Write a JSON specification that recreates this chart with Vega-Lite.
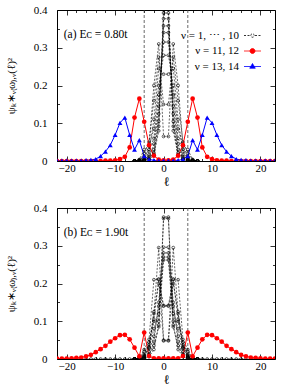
{
"$schema":"https://vega.github.io/schema/vega-lite/v6.json",
"padding":{"left":4,"top":3,"right":5,"bottom":4},
"background":"white",
"config":{"font":"Liberation Serif","view":{"stroke":"black","strokeWidth":1},
"axis":{"grid":false,"domain":false,"labelFont":"Liberation Serif","labelFontSize":11,"labelColor":"black","tickColor":"black","tickWidth":0.8,"titleFont":"Liberation Serif","titleFontWeight":"normal","titleColor":"black"}},
"spacing":12,
"resolve":{"scale":{"x":"independent","y":"independent","shape":"independent","fill":"independent","stroke":"independent","strokeDash":"independent"},"legend":{"shape":"independent","fill":"independent","stroke":"independent","strokeDash":"independent"},"axis":{"x":"independent","y":"independent"}},
"datasets":{
"cut":[{"l":-4},{"l":5}],
"a":[
{"g":"k","n":1,"l":-6,"v":0},{"g":"k","n":1,"l":-5,"v":0},{"g":"k","n":1,"l":-4,"v":0.001},{"g":"k","n":1,"l":-3,"v":0.004},{"g":"k","n":1,"l":-2,"v":0.015},{"g":"k","n":1,"l":-1,"v":0.08},{"g":"k","n":1,"l":0,"v":0.4},{"g":"k","n":1,"l":1,"v":0.4},{"g":"k","n":1,"l":2,"v":0.08},{"g":"k","n":1,"l":3,"v":0.015},{"g":"k","n":1,"l":4,"v":0.004},{"g":"k","n":1,"l":5,"v":0.001},{"g":"k","n":1,"l":6,"v":0},{"g":"k","n":1,"l":7,"v":0},
{"g":"k","n":2,"l":-6,"v":0},{"g":"k","n":2,"l":-5,"v":0.001},{"g":"k","n":2,"l":-4,"v":0.003},{"g":"k","n":2,"l":-3,"v":0.012},{"g":"k","n":2,"l":-2,"v":0.018},{"g":"k","n":2,"l":-1,"v":0.092},{"g":"k","n":2,"l":0,"v":0.392},{"g":"k","n":2,"l":1,"v":0.392},{"g":"k","n":2,"l":2,"v":0.092},{"g":"k","n":2,"l":3,"v":0.018},{"g":"k","n":2,"l":4,"v":0.012},{"g":"k","n":2,"l":5,"v":0.003},{"g":"k","n":2,"l":6,"v":0.001},{"g":"k","n":2,"l":7,"v":0},
{"g":"k","n":3,"l":-6,"v":0},{"g":"k","n":3,"l":-5,"v":0},{"g":"k","n":3,"l":-4,"v":0.002},{"g":"k","n":3,"l":-3,"v":0.005},{"g":"k","n":3,"l":-2,"v":0.022},{"g":"k","n":3,"l":-1,"v":0.105},{"g":"k","n":3,"l":0,"v":0.377},{"g":"k","n":3,"l":1,"v":0.377},{"g":"k","n":3,"l":2,"v":0.105},{"g":"k","n":3,"l":3,"v":0.022},{"g":"k","n":3,"l":4,"v":0.005},{"g":"k","n":3,"l":5,"v":0.002},{"g":"k","n":3,"l":6,"v":0},{"g":"k","n":3,"l":7,"v":0},
{"g":"k","n":4,"l":-6,"v":0},{"g":"k","n":4,"l":-5,"v":0.001},{"g":"k","n":4,"l":-4,"v":0.004},{"g":"k","n":4,"l":-3,"v":0.016},{"g":"k","n":4,"l":-2,"v":0.03},{"g":"k","n":4,"l":-1,"v":0.125},{"g":"k","n":4,"l":0,"v":0.358},{"g":"k","n":4,"l":1,"v":0.358},{"g":"k","n":4,"l":2,"v":0.125},{"g":"k","n":4,"l":3,"v":0.03},{"g":"k","n":4,"l":4,"v":0.016},{"g":"k","n":4,"l":5,"v":0.004},{"g":"k","n":4,"l":6,"v":0.001},{"g":"k","n":4,"l":7,"v":0},
{"g":"k","n":5,"l":-6,"v":0},{"g":"k","n":5,"l":-5,"v":0},{"g":"k","n":5,"l":-4,"v":0.002},{"g":"k","n":5,"l":-3,"v":0.008},{"g":"k","n":5,"l":-2,"v":0.045},{"g":"k","n":5,"l":-1,"v":0.145},{"g":"k","n":5,"l":0,"v":0.34},{"g":"k","n":5,"l":1,"v":0.34},{"g":"k","n":5,"l":2,"v":0.145},{"g":"k","n":5,"l":3,"v":0.045},{"g":"k","n":5,"l":4,"v":0.008},{"g":"k","n":5,"l":5,"v":0.002},{"g":"k","n":5,"l":6,"v":0},{"g":"k","n":5,"l":7,"v":0},
{"g":"k","n":6,"l":-6,"v":0},{"g":"k","n":6,"l":-5,"v":0.002},{"g":"k","n":6,"l":-4,"v":0.01},{"g":"k","n":6,"l":-3,"v":0.03},{"g":"k","n":6,"l":-2,"v":0.06},{"g":"k","n":6,"l":-1,"v":0.175},{"g":"k","n":6,"l":0,"v":0.315},{"g":"k","n":6,"l":1,"v":0.315},{"g":"k","n":6,"l":2,"v":0.175},{"g":"k","n":6,"l":3,"v":0.06},{"g":"k","n":6,"l":4,"v":0.03},{"g":"k","n":6,"l":5,"v":0.01},{"g":"k","n":6,"l":6,"v":0.002},{"g":"k","n":6,"l":7,"v":0},
{"g":"k","n":7,"l":-6,"v":0},{"g":"k","n":7,"l":-5,"v":0.002},{"g":"k","n":7,"l":-4,"v":0.012},{"g":"k","n":7,"l":-3,"v":0.04},{"g":"k","n":7,"l":-2,"v":0.085},{"g":"k","n":7,"l":-1,"v":0.2},{"g":"k","n":7,"l":0,"v":0.28},{"g":"k","n":7,"l":1,"v":0.28},{"g":"k","n":7,"l":2,"v":0.2},{"g":"k","n":7,"l":3,"v":0.085},{"g":"k","n":7,"l":4,"v":0.04},{"g":"k","n":7,"l":5,"v":0.012},{"g":"k","n":7,"l":6,"v":0.002},{"g":"k","n":7,"l":7,"v":0},
{"g":"k","n":8,"l":-6,"v":0},{"g":"k","n":8,"l":-5,"v":0.001},{"g":"k","n":8,"l":-4,"v":0.006},{"g":"k","n":8,"l":-3,"v":0.025},{"g":"k","n":8,"l":-2,"v":0.11},{"g":"k","n":8,"l":-1,"v":0.245},{"g":"k","n":8,"l":0,"v":0.23},{"g":"k","n":8,"l":1,"v":0.23},{"g":"k","n":8,"l":2,"v":0.245},{"g":"k","n":8,"l":3,"v":0.11},{"g":"k","n":8,"l":4,"v":0.025},{"g":"k","n":8,"l":5,"v":0.006},{"g":"k","n":8,"l":6,"v":0.001},{"g":"k","n":8,"l":7,"v":0},
{"g":"k","n":9,"l":-6,"v":0},{"g":"k","n":9,"l":-5,"v":0.003},{"g":"k","n":9,"l":-4,"v":0.02},{"g":"k","n":9,"l":-3,"v":0.05},{"g":"k","n":9,"l":-2,"v":0.16},{"g":"k","n":9,"l":-1,"v":0.275},{"g":"k","n":9,"l":0,"v":0.15},{"g":"k","n":9,"l":1,"v":0.15},{"g":"k","n":9,"l":2,"v":0.275},{"g":"k","n":9,"l":3,"v":0.16},{"g":"k","n":9,"l":4,"v":0.05},{"g":"k","n":9,"l":5,"v":0.02},{"g":"k","n":9,"l":6,"v":0.003},{"g":"k","n":9,"l":7,"v":0},
{"g":"k","n":10,"l":-6,"v":0},{"g":"k","n":10,"l":-5,"v":0.004},{"g":"k","n":10,"l":-4,"v":0.03},{"g":"k","n":10,"l":-3,"v":0.04},{"g":"k","n":10,"l":-2,"v":0.2},{"g":"k","n":10,"l":-1,"v":0.31},{"g":"k","n":10,"l":0,"v":0.065},{"g":"k","n":10,"l":1,"v":0.065},{"g":"k","n":10,"l":2,"v":0.31},{"g":"k","n":10,"l":3,"v":0.2},{"g":"k","n":10,"l":4,"v":0.04},{"g":"k","n":10,"l":5,"v":0.03},{"g":"k","n":10,"l":6,"v":0.004},{"g":"k","n":10,"l":7,"v":0},
{"g":"r","n":11,"l":-22,"v":0},{"g":"r","n":11,"l":-21,"v":0},{"g":"r","n":11,"l":-20,"v":0},{"g":"r","n":11,"l":-19,"v":0},{"g":"r","n":11,"l":-18,"v":0},{"g":"r","n":11,"l":-17,"v":0},{"g":"r","n":11,"l":-16,"v":0},{"g":"r","n":11,"l":-15,"v":0},{"g":"r","n":11,"l":-14,"v":0},{"g":"r","n":11,"l":-13,"v":0},{"g":"r","n":11,"l":-12,"v":0.001},{"g":"r","n":11,"l":-11,"v":0.001},{"g":"r","n":11,"l":-10,"v":0.002},{"g":"r","n":11,"l":-9,"v":0.005},{"g":"r","n":11,"l":-8,"v":0.011},{"g":"r","n":11,"l":-7,"v":0.036},{"g":"r","n":11,"l":-6,"v":0.115},{"g":"r","n":11,"l":-5,"v":0.165},{"g":"r","n":11,"l":-4,"v":0.104},{"g":"r","n":11,"l":-3,"v":0.042},{"g":"r","n":11,"l":-2,"v":0.014},{"g":"r","n":11,"l":-1,"v":0.004},{"g":"r","n":11,"l":0,"v":0.002},{"g":"r","n":11,"l":1,"v":0.002},{"g":"r","n":11,"l":2,"v":0.004},{"g":"r","n":11,"l":3,"v":0.014},{"g":"r","n":11,"l":4,"v":0.042},{"g":"r","n":11,"l":5,"v":0.104},{"g":"r","n":11,"l":6,"v":0.165},{"g":"r","n":11,"l":7,"v":0.115},{"g":"r","n":11,"l":8,"v":0.036},{"g":"r","n":11,"l":9,"v":0.011},{"g":"r","n":11,"l":10,"v":0.005},{"g":"r","n":11,"l":11,"v":0.002},{"g":"r","n":11,"l":12,"v":0.001},{"g":"r","n":11,"l":13,"v":0.001},{"g":"r","n":11,"l":14,"v":0},{"g":"r","n":11,"l":15,"v":0},{"g":"r","n":11,"l":16,"v":0},{"g":"r","n":11,"l":17,"v":0},{"g":"r","n":11,"l":18,"v":0},{"g":"r","n":11,"l":19,"v":0},{"g":"r","n":11,"l":20,"v":0},{"g":"r","n":11,"l":21,"v":0},{"g":"r","n":11,"l":22,"v":0},{"g":"r","n":11,"l":23,"v":0},
{"g":"b","n":13,"l":-22,"v":0.001},{"g":"b","n":13,"l":-21,"v":0.001},{"g":"b","n":13,"l":-20,"v":0.001},{"g":"b","n":13,"l":-19,"v":0.001},{"g":"b","n":13,"l":-18,"v":0.001},{"g":"b","n":13,"l":-17,"v":0.001},{"g":"b","n":13,"l":-16,"v":0.002},{"g":"b","n":13,"l":-15,"v":0.003},{"g":"b","n":13,"l":-14,"v":0.005},{"g":"b","n":13,"l":-13,"v":0.013},{"g":"b","n":13,"l":-12,"v":0.025},{"g":"b","n":13,"l":-11,"v":0.042},{"g":"b","n":13,"l":-10,"v":0.069},{"g":"b","n":13,"l":-9,"v":0.101},{"g":"b","n":13,"l":-8,"v":0.115},{"g":"b","n":13,"l":-7,"v":0.069},{"g":"b","n":13,"l":-6,"v":0.03},{"g":"b","n":13,"l":-5,"v":0.055},{"g":"b","n":13,"l":-4,"v":0.013},{"g":"b","n":13,"l":-3,"v":0.004},{"g":"b","n":13,"l":-2,"v":0.002},{"g":"b","n":13,"l":-1,"v":0.001},{"g":"b","n":13,"l":0,"v":0.001},{"g":"b","n":13,"l":1,"v":0.001},{"g":"b","n":13,"l":2,"v":0.001},{"g":"b","n":13,"l":3,"v":0.002},{"g":"b","n":13,"l":4,"v":0.004},{"g":"b","n":13,"l":5,"v":0.013},{"g":"b","n":13,"l":6,"v":0.055},{"g":"b","n":13,"l":7,"v":0.03},{"g":"b","n":13,"l":8,"v":0.069},{"g":"b","n":13,"l":9,"v":0.115},{"g":"b","n":13,"l":10,"v":0.101},{"g":"b","n":13,"l":11,"v":0.069},{"g":"b","n":13,"l":12,"v":0.042},{"g":"b","n":13,"l":13,"v":0.025},{"g":"b","n":13,"l":14,"v":0.013},{"g":"b","n":13,"l":15,"v":0.005},{"g":"b","n":13,"l":16,"v":0.003},{"g":"b","n":13,"l":17,"v":0.002},{"g":"b","n":13,"l":18,"v":0.001},{"g":"b","n":13,"l":19,"v":0.001},{"g":"b","n":13,"l":20,"v":0.001},{"g":"b","n":13,"l":21,"v":0.001},{"g":"b","n":13,"l":22,"v":0.001},{"g":"b","n":13,"l":23,"v":0.001}
],
"b":[
{"g":"k","n":1,"l":-22,"v":0},{"g":"k","n":1,"l":-21,"v":0},{"g":"k","n":1,"l":-20,"v":0},{"g":"k","n":1,"l":-19,"v":0},{"g":"k","n":1,"l":-18,"v":0},{"g":"k","n":1,"l":-17,"v":0},{"g":"k","n":1,"l":-16,"v":0},{"g":"k","n":1,"l":-15,"v":0},{"g":"k","n":1,"l":-14,"v":0},{"g":"k","n":1,"l":-13,"v":0},{"g":"k","n":1,"l":-12,"v":0},{"g":"k","n":1,"l":-11,"v":0},{"g":"k","n":1,"l":-10,"v":0},{"g":"k","n":1,"l":-9,"v":0},{"g":"k","n":1,"l":-8,"v":0},{"g":"k","n":1,"l":-7,"v":0},{"g":"k","n":1,"l":-6,"v":0},{"g":"k","n":1,"l":-5,"v":0},{"g":"k","n":1,"l":-4,"v":0.002},{"g":"k","n":1,"l":-3,"v":0.01},{"g":"k","n":1,"l":-2,"v":0.035},{"g":"k","n":1,"l":-1,"v":0.085},{"g":"k","n":1,"l":0,"v":0.376},{"g":"k","n":1,"l":1,"v":0.376},{"g":"k","n":1,"l":2,"v":0.085},{"g":"k","n":1,"l":3,"v":0.035},{"g":"k","n":1,"l":4,"v":0.01},{"g":"k","n":1,"l":5,"v":0.002},{"g":"k","n":1,"l":6,"v":0},{"g":"k","n":1,"l":7,"v":0},{"g":"k","n":1,"l":8,"v":0},{"g":"k","n":1,"l":9,"v":0},{"g":"k","n":1,"l":10,"v":0},{"g":"k","n":1,"l":11,"v":0},{"g":"k","n":1,"l":12,"v":0},{"g":"k","n":1,"l":13,"v":0},{"g":"k","n":1,"l":14,"v":0},{"g":"k","n":1,"l":15,"v":0},{"g":"k","n":1,"l":16,"v":0},{"g":"k","n":1,"l":17,"v":0},{"g":"k","n":1,"l":18,"v":0},{"g":"k","n":1,"l":19,"v":0},{"g":"k","n":1,"l":20,"v":0},{"g":"k","n":1,"l":21,"v":0},{"g":"k","n":1,"l":22,"v":0},{"g":"k","n":1,"l":23,"v":0},
{"g":"k","n":2,"l":-6,"v":0},{"g":"k","n":2,"l":-5,"v":0},{"g":"k","n":2,"l":-4,"v":0.001},{"g":"k","n":2,"l":-3,"v":0.006},{"g":"k","n":2,"l":-2,"v":0.025},{"g":"k","n":2,"l":-1,"v":0.09},{"g":"k","n":2,"l":0,"v":0.372},{"g":"k","n":2,"l":1,"v":0.372},{"g":"k","n":2,"l":2,"v":0.09},{"g":"k","n":2,"l":3,"v":0.025},{"g":"k","n":2,"l":4,"v":0.006},{"g":"k","n":2,"l":5,"v":0.001},{"g":"k","n":2,"l":6,"v":0},{"g":"k","n":2,"l":7,"v":0},
{"g":"k","n":3,"l":-6,"v":0},{"g":"k","n":3,"l":-5,"v":0},{"g":"k","n":3,"l":-4,"v":0.003},{"g":"k","n":3,"l":-3,"v":0.012},{"g":"k","n":3,"l":-2,"v":0.045},{"g":"k","n":3,"l":-1,"v":0.15},{"g":"k","n":3,"l":0,"v":0.296},{"g":"k","n":3,"l":1,"v":0.296},{"g":"k","n":3,"l":2,"v":0.15},{"g":"k","n":3,"l":3,"v":0.045},{"g":"k","n":3,"l":4,"v":0.012},{"g":"k","n":3,"l":5,"v":0.003},{"g":"k","n":3,"l":6,"v":0},{"g":"k","n":3,"l":7,"v":0},
{"g":"k","n":4,"l":-6,"v":0},{"g":"k","n":4,"l":-5,"v":0.001},{"g":"k","n":4,"l":-4,"v":0.004},{"g":"k","n":4,"l":-3,"v":0.02},{"g":"k","n":4,"l":-2,"v":0.06},{"g":"k","n":4,"l":-1,"v":0.14},{"g":"k","n":4,"l":0,"v":0.281},{"g":"k","n":4,"l":1,"v":0.281},{"g":"k","n":4,"l":2,"v":0.14},{"g":"k","n":4,"l":3,"v":0.06},{"g":"k","n":4,"l":4,"v":0.02},{"g":"k","n":4,"l":5,"v":0.004},{"g":"k","n":4,"l":6,"v":0.001},{"g":"k","n":4,"l":7,"v":0},
{"g":"k","n":5,"l":-6,"v":0},{"g":"k","n":5,"l":-5,"v":0.001},{"g":"k","n":5,"l":-4,"v":0.006},{"g":"k","n":5,"l":-3,"v":0.028},{"g":"k","n":5,"l":-2,"v":0.08},{"g":"k","n":5,"l":-1,"v":0.12},{"g":"k","n":5,"l":0,"v":0.27},{"g":"k","n":5,"l":1,"v":0.27},{"g":"k","n":5,"l":2,"v":0.12},{"g":"k","n":5,"l":3,"v":0.08},{"g":"k","n":5,"l":4,"v":0.028},{"g":"k","n":5,"l":5,"v":0.006},{"g":"k","n":5,"l":6,"v":0.001},{"g":"k","n":5,"l":7,"v":0},
{"g":"k","n":6,"l":-6,"v":0},{"g":"k","n":6,"l":-5,"v":0.001},{"g":"k","n":6,"l":-4,"v":0.008},{"g":"k","n":6,"l":-3,"v":0.038},{"g":"k","n":6,"l":-2,"v":0.1},{"g":"k","n":6,"l":-1,"v":0.1},{"g":"k","n":6,"l":0,"v":0.262},{"g":"k","n":6,"l":1,"v":0.262},{"g":"k","n":6,"l":2,"v":0.1},{"g":"k","n":6,"l":3,"v":0.1},{"g":"k","n":6,"l":4,"v":0.038},{"g":"k","n":6,"l":5,"v":0.008},{"g":"k","n":6,"l":6,"v":0.001},{"g":"k","n":6,"l":7,"v":0},
{"g":"k","n":7,"l":-6,"v":0},{"g":"k","n":7,"l":-5,"v":0.002},{"g":"k","n":7,"l":-4,"v":0.012},{"g":"k","n":7,"l":-3,"v":0.045},{"g":"k","n":7,"l":-2,"v":0.105},{"g":"k","n":7,"l":-1,"v":0.21},{"g":"k","n":7,"l":0,"v":0.142},{"g":"k","n":7,"l":1,"v":0.142},{"g":"k","n":7,"l":2,"v":0.21},{"g":"k","n":7,"l":3,"v":0.105},{"g":"k","n":7,"l":4,"v":0.045},{"g":"k","n":7,"l":5,"v":0.012},{"g":"k","n":7,"l":6,"v":0.002},{"g":"k","n":7,"l":7,"v":0},
{"g":"k","n":8,"l":-6,"v":0},{"g":"k","n":8,"l":-5,"v":0.002},{"g":"k","n":8,"l":-4,"v":0.02},{"g":"k","n":8,"l":-3,"v":0.032},{"g":"k","n":8,"l":-2,"v":0.125},{"g":"k","n":8,"l":-1,"v":0.2},{"g":"k","n":8,"l":0,"v":0.14},{"g":"k","n":8,"l":1,"v":0.14},{"g":"k","n":8,"l":2,"v":0.2},{"g":"k","n":8,"l":3,"v":0.125},{"g":"k","n":8,"l":4,"v":0.032},{"g":"k","n":8,"l":5,"v":0.02},{"g":"k","n":8,"l":6,"v":0.002},{"g":"k","n":8,"l":7,"v":0},
{"g":"k","n":9,"l":-6,"v":0},{"g":"k","n":9,"l":-5,"v":0.001},{"g":"k","n":9,"l":-4,"v":0.01},{"g":"k","n":9,"l":-3,"v":0.03},{"g":"k","n":9,"l":-2,"v":0.12},{"g":"k","n":9,"l":-1,"v":0.295},{"g":"k","n":9,"l":0,"v":0.05},{"g":"k","n":9,"l":1,"v":0.05},{"g":"k","n":9,"l":2,"v":0.295},{"g":"k","n":9,"l":3,"v":0.12},{"g":"k","n":9,"l":4,"v":0.03},{"g":"k","n":9,"l":5,"v":0.01},{"g":"k","n":9,"l":6,"v":0.001},{"g":"k","n":9,"l":7,"v":0},
{"g":"k","n":10,"l":-6,"v":0},{"g":"k","n":10,"l":-5,"v":0.003},{"g":"k","n":10,"l":-4,"v":0.025},{"g":"k","n":10,"l":-3,"v":0.052},{"g":"k","n":10,"l":-2,"v":0.21},{"g":"k","n":10,"l":-1,"v":0.212},{"g":"k","n":10,"l":0,"v":0.048},{"g":"k","n":10,"l":1,"v":0.048},{"g":"k","n":10,"l":2,"v":0.212},{"g":"k","n":10,"l":3,"v":0.21},{"g":"k","n":10,"l":4,"v":0.052},{"g":"k","n":10,"l":5,"v":0.025},{"g":"k","n":10,"l":6,"v":0.003},{"g":"k","n":10,"l":7,"v":0},
{"g":"r","n":11,"l":-22,"v":0.001},{"g":"r","n":11,"l":-21,"v":0.001},{"g":"r","n":11,"l":-20,"v":0.001},{"g":"r","n":11,"l":-19,"v":0.002},{"g":"r","n":11,"l":-18,"v":0.003},{"g":"r","n":11,"l":-17,"v":0.004},{"g":"r","n":11,"l":-16,"v":0.007},{"g":"r","n":11,"l":-15,"v":0.011},{"g":"r","n":11,"l":-14,"v":0.018},{"g":"r","n":11,"l":-13,"v":0.026},{"g":"r","n":11,"l":-12,"v":0.035},{"g":"r","n":11,"l":-11,"v":0.046},{"g":"r","n":11,"l":-10,"v":0.055},{"g":"r","n":11,"l":-9,"v":0.063},{"g":"r","n":11,"l":-8,"v":0.064},{"g":"r","n":11,"l":-7,"v":0.052},{"g":"r","n":11,"l":-6,"v":0.03},{"g":"r","n":11,"l":-5,"v":0.007},{"g":"r","n":11,"l":-4,"v":0.07},{"g":"r","n":11,"l":-3,"v":0.008},{"g":"r","n":11,"l":-2,"v":0.002},{"g":"r","n":11,"l":-1,"v":0.002},{"g":"r","n":11,"l":0,"v":0.002},{"g":"r","n":11,"l":1,"v":0.002},{"g":"r","n":11,"l":2,"v":0.002},{"g":"r","n":11,"l":3,"v":0.002},{"g":"r","n":11,"l":4,"v":0.008},{"g":"r","n":11,"l":5,"v":0.07},{"g":"r","n":11,"l":6,"v":0.007},{"g":"r","n":11,"l":7,"v":0.03},{"g":"r","n":11,"l":8,"v":0.052},{"g":"r","n":11,"l":9,"v":0.064},{"g":"r","n":11,"l":10,"v":0.063},{"g":"r","n":11,"l":11,"v":0.055},{"g":"r","n":11,"l":12,"v":0.046},{"g":"r","n":11,"l":13,"v":0.035},{"g":"r","n":11,"l":14,"v":0.026},{"g":"r","n":11,"l":15,"v":0.018},{"g":"r","n":11,"l":16,"v":0.011},{"g":"r","n":11,"l":17,"v":0.007},{"g":"r","n":11,"l":18,"v":0.004},{"g":"r","n":11,"l":19,"v":0.003},{"g":"r","n":11,"l":20,"v":0.002},{"g":"r","n":11,"l":21,"v":0.001},{"g":"r","n":11,"l":22,"v":0.001},{"g":"r","n":11,"l":23,"v":0.001}
]},
"vconcat":[
{"width":218,"height":151,"data":{"name":"a"},
"resolve":{"axis":{"x":"independent","y":"independent"}},
"layer":[
{"data":{"name":"cut"},"mark":{"type":"rule","color":"#444","strokeDash":[3,2],"strokeWidth":0.8},
"encoding":{"x":{"field":"l","type":"quantitative","scale":{"domain":[-22,23],"nice":false,"zero":false},
"axis":{"orient":"bottom","values":[-20,-10,0,10,20],"tickSize":-5,"labelPadding":6,"title":"ℓ","titleFontSize":13,"titlePadding":2}}}},
{"transform":[{"filter":"datum.g == 'k'"}],"mark":{"type":"line","color":"black","strokeWidth":0.6,"strokeDash":[2,1.5],"clip":true},
"encoding":{"x":{"field":"l","type":"quantitative","axis":{"orient":"bottom","values":[-22,-18,-16,-14,-12,-8,-6,-4,-2,2,4,6,8,12,14,16,18,22],"tickSize":-2.5,"labels":false,"title":null}},
"y":{"field":"v","type":"quantitative","scale":{"domain":[0,0.4],"nice":false,"zero":false},"axis":{"orient":"left","values":[0,0.1,0.2,0.3,0.4],"tickSize":-5,"labelPadding":15,"labelExpr":"datum.value == 0 ? '0' : format(datum.value, '.1f')","title":"ψₖ∗ᵥ₍ω₎,ᵥ(ℓ)²","titleFontSize":11,"titlePadding":17}},
"detail":{"field":"n"}}},
{"transform":[{"filter":"datum.g == 'r'"}],"mark":{"type":"line","color":"red","strokeWidth":1,"clip":true},
"encoding":{"x":{"field":"l","type":"quantitative","axis":{"orient":"top","values":[-20,-10,0,10,20],"tickSize":-5,"labels":false,"title":null}},
"y":{"field":"v","type":"quantitative","axis":{"orient":"left","values":[0.05,0.15,0.25,0.35],"tickSize":-2.5,"labels":false,"title":null}}}},
{"transform":[{"filter":"datum.g == 'b'"}],"mark":{"type":"line","color":"blue","strokeWidth":1,"clip":true},
"encoding":{"x":{"field":"l","type":"quantitative","axis":{"orient":"top","values":[-22,-18,-16,-14,-12,-8,-6,-4,-2,2,4,6,8,12,14,16,18,22],"tickSize":-2.5,"labels":false,"title":null}},
"y":{"field":"v","type":"quantitative","axis":{"orient":"right","values":[0,0.1,0.2,0.3,0.4],"tickSize":-5,"labels":false,"title":null}}}},
{"transform":[{"filter":"datum.g == 'k'"}],"mark":{"type":"point","shape":"circle","filled":false,"color":"black","size":8,"strokeWidth":0.6,"opacity":1,"clip":true},
"encoding":{"x":{"field":"l","type":"quantitative","axis":null},
"y":{"field":"v","type":"quantitative","axis":{"orient":"right","values":[0.05,0.15,0.25,0.35],"tickSize":-2.5,"labels":false,"title":null}}}},
{"transform":[{"filter":"datum.g == 'r'"}],"mark":{"type":"point","shape":"circle","filled":true,"color":"red","size":22,"opacity":1,"clip":true},
"encoding":{"x":{"field":"l","type":"quantitative","axis":null},"y":{"field":"v","type":"quantitative","axis":null}}},
{"transform":[{"filter":"datum.g == 'b'"}],"mark":{"type":"point","shape":"triangle-up","filled":true,"color":"blue","size":24,"opacity":1,"clip":true},
"encoding":{"x":{"field":"l","type":"quantitative","axis":null},"y":{"field":"v","type":"quantitative","axis":null}}},
{"mark":{"type":"point","filled":true,"opacity":0},
"encoding":{"x":{"field":"l","type":"quantitative","axis":null},"y":{"field":"v","type":"quantitative","axis":null},
"shape":{"field":"g","type":"nominal","scale":{"domain":["k","r","b"],"range":["M-1.7,0H-0.5M0.5,0H1.7M-0.35,0A0.35,0.35 0 1 1 0.35,0A0.35,0.35 0 1 1 -0.35,0","M-1.7,0H1.7M-0.5,0A0.5,0.5 0 1 1 0.5,0A0.5,0.5 0 1 1 -0.5,0","M-1.7,0H1.7M0,-0.6L0.55,0.35L-0.55,0.35Z"]},
"legend":{"orient":"top-right","title":" ","titleFontSize":8,"titlePadding":0,"offset":12,"padding":0,"rowPadding":3.5,"labelFont":"Liberation Serif","labelFontSize":11,"labelColor":"black","labelAlign":"right","labelOffset":-19,"symbolSize":100,"symbolOpacity":1,"symbolStrokeWidth":0.8,
"labelExpr":"datum.value == 'k' ? 'ν = 1, ⋯ , 10' : datum.value == 'r' ? 'ν = 11, 12' : 'ν = 13, 14'"}},
"fill":{"field":"g","type":"nominal","scale":{"domain":["k","r","b"],"range":["white","red","blue"]}},
"stroke":{"field":"g","type":"nominal","scale":{"domain":["k","r","b"],"range":["black","red","blue"]}},
"strokeDash":{"field":"g","type":"nominal","scale":{"domain":["k","r","b"],"range":[[2,1.5],[1,0],[1,0]]}}}},
{"data":{"values":[{"t":"(a) Eᴄ = 0.80t"}]},"mark":{"type":"text","align":"left","baseline":"middle","font":"Liberation Serif","fontSize":11.5,"color":"black"},
"encoding":{"text":{"field":"t"},"x":{"datum":-20.6,"type":"quantitative","axis":null},"y":{"datum":0.335,"type":"quantitative","axis":null}}}
]},
{"width":218,"height":151,"data":{"name":"b"},
"resolve":{"axis":{"x":"independent","y":"independent"}},
"layer":[
{"data":{"name":"cut"},"mark":{"type":"rule","color":"#444","strokeDash":[3,2],"strokeWidth":0.8},
"encoding":{"x":{"field":"l","type":"quantitative","scale":{"domain":[-22,23],"nice":false,"zero":false},
"axis":{"orient":"bottom","values":[-20,-10,0,10,20],"tickSize":-5,"labelPadding":6,"title":"ℓ","titleFontSize":13,"titlePadding":2}}}},
{"transform":[{"filter":"datum.g == 'k'"}],"mark":{"type":"line","color":"black","strokeWidth":0.6,"strokeDash":[2,1.5],"clip":true},
"encoding":{"x":{"field":"l","type":"quantitative","axis":{"orient":"bottom","values":[-22,-18,-16,-14,-12,-8,-6,-4,-2,2,4,6,8,12,14,16,18,22],"tickSize":-2.5,"labels":false,"title":null}},
"y":{"field":"v","type":"quantitative","scale":{"domain":[0,0.4],"nice":false,"zero":false},"axis":{"orient":"left","values":[0,0.1,0.2,0.3,0.4],"tickSize":-5,"labelPadding":15,"labelExpr":"datum.value == 0 ? '0' : format(datum.value, '.1f')","title":"ψₖ∗ᵥ₍ω₎,ᵥ(ℓ)²","titleFontSize":11,"titlePadding":17}},
"detail":{"field":"n"}}},
{"transform":[{"filter":"datum.g == 'r'"}],"mark":{"type":"line","color":"red","strokeWidth":1,"clip":true},
"encoding":{"x":{"field":"l","type":"quantitative","axis":{"orient":"top","values":[-20,-10,0,10,20],"tickSize":-5,"labels":false,"title":null}},
"y":{"field":"v","type":"quantitative","axis":{"orient":"left","values":[0.05,0.15,0.25,0.35],"tickSize":-2.5,"labels":false,"title":null}}}},
{"transform":[{"filter":"datum.g == 'k'"}],"mark":{"type":"point","shape":"circle","filled":false,"color":"black","size":8,"strokeWidth":0.6,"opacity":1,"clip":true},
"encoding":{"x":{"field":"l","type":"quantitative","axis":{"orient":"top","values":[-22,-18,-16,-14,-12,-8,-6,-4,-2,2,4,6,8,12,14,16,18,22],"tickSize":-2.5,"labels":false,"title":null}},
"y":{"field":"v","type":"quantitative","axis":{"orient":"right","values":[0,0.1,0.2,0.3,0.4],"tickSize":-5,"labels":false,"title":null}}}},
{"transform":[{"filter":"datum.g == 'r'"}],"mark":{"type":"point","shape":"circle","filled":true,"color":"red","size":22,"opacity":1,"clip":true},
"encoding":{"x":{"field":"l","type":"quantitative","axis":null},
"y":{"field":"v","type":"quantitative","axis":{"orient":"right","values":[0.05,0.15,0.25,0.35],"tickSize":-2.5,"labels":false,"title":null}}}},
{"data":{"values":[{"t":"(b) Eᴄ = 1.90t"}]},"mark":{"type":"text","align":"left","baseline":"middle","font":"Liberation Serif","fontSize":11.5,"color":"black"},
"encoding":{"text":{"field":"t"},"x":{"datum":-20.6,"type":"quantitative","axis":null},"y":{"datum":0.335,"type":"quantitative","axis":null}}}
]}
]}
